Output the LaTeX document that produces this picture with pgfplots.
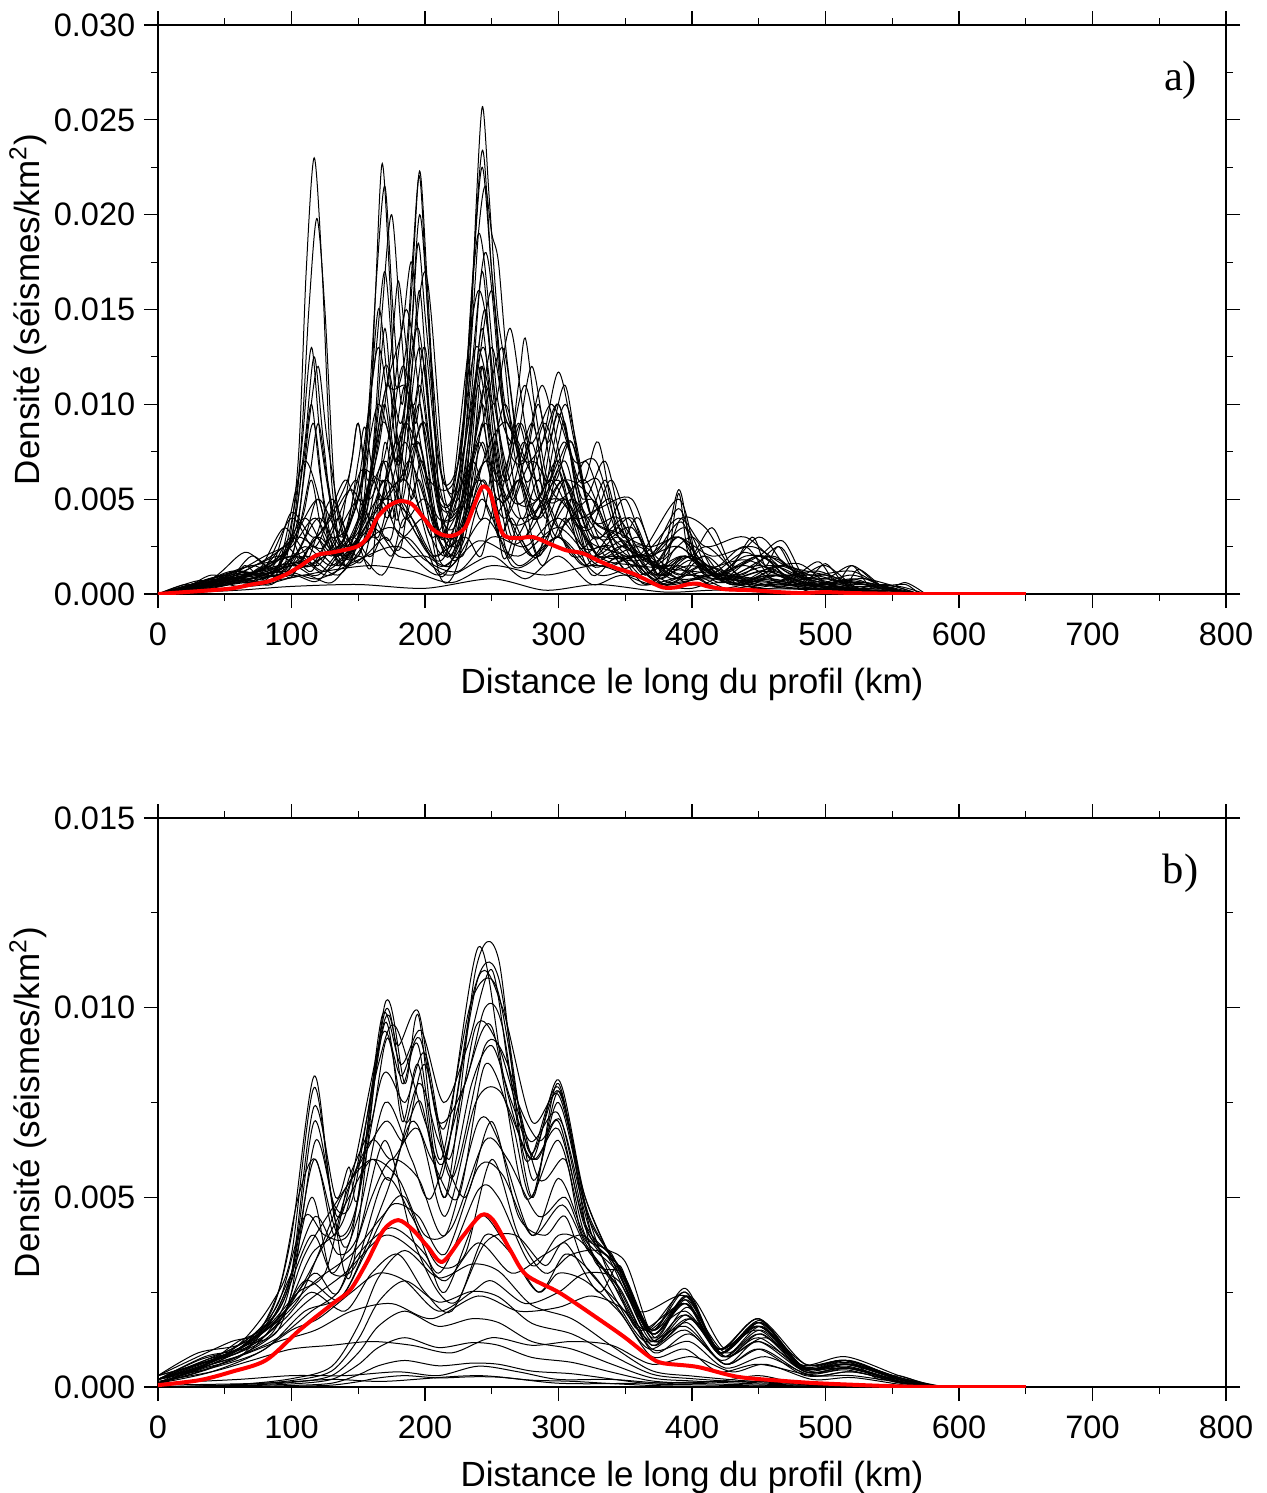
\documentclass[border=0pt]{standalone}
\usepackage{fontspec}
\setmainfont{Liberation Sans}
\newfontfamily\timesfont{Liberation Serif}
\usepackage{pgfplots}
\pgfplotsset{compat=1.18}
\pgfplotsset{
 gmt/.style={width=427.2pt,height=227.6pt,scale only axis,
  xmin=0,xmax=800,ymin=0,
  xtick={0,100,...,800}, xticklabels={0,100,200,300,400,500,600,700,800},
  minor x tick num=1, minor y tick num=1,
  tick align=outside, major tick length=5.6pt, minor tick length=2.8pt,
  axis line style={line width=0.9pt},
  every tick/.style={black,line width=0.45pt},
  tick label style={font=\fontsize{13}{15}\selectfont},
  xticklabel style={yshift=-2.5pt},
  label style={font=\fontsize{14}{16}\selectfont},
  xlabel style={yshift=-2pt},
  ylabel style={yshift=-4pt},
  xlabel={Distance le long du profil (km)},
  ylabel={Densité (séismes/km\textsuperscript{2})}},
 cur/.style={black, line width=0.4pt, smooth, no markers},
 mean/.style={red, line width=1.6pt, smooth, no markers},
}
\begin{document}
\begin{tikzpicture}
\begin{axis}[gmt, at={(63.2pt,-237.6pt)}, anchor=south west, ymax=30,
  ytick={0,5,...,30}, yticklabels={0.000,0.005,0.010,0.015,0.020,0.025,0.030}]
\addplot[cur] coordinates {(0,0)(20,0.3)(40,0.8)(60,0.4)(80,0.9)(95,1.5)(105,7)(111,17)(117,23)(123,17)(130,6)(140,1.5)(150,2.5)(160,1.5)(170,8)(182,3.5)(196,6)(212,0.8)(226,2)(243,10)(258,2)(272,4)(288,1.5)(305,4)(325,1)(345,2)(365,0.5)(390,1.5)(420,0.3)(460,0.8)(490,0.1)(520,0.3)(560,0)(580,0)};
\addplot[cur] coordinates {(0,0)(25,0.5)(45,0.9)(70,0.6)(90,1.2)(105,6)(113,15)(119,19.8)(125,15)(133,5)(145,2)(155,2)(168,6)(176,4)(185,9)(194,5)(210,1.5)(230,3)(237,8)(243,12)(249,8)(262,3)(275,3)(290,5)(310,2)(335,2.5)(360,0.5)(400,1)(430,0.2)(470,0.5)(520,0.2)(560,0)};
\addplot[cur] coordinates {(0,0)(30,0.6)(55,1.0)(80,0.7)(100,3)(110,8)(117,12.5)(124,8)(135,2)(150,3)(158,8)(163,16)(168,22.7)(174,16)(182,5)(196,10)(210,2)(225,2.5)(243,8)(256,3)(270,6)(285,2)(305,5)(325,1.5)(350,2)(380,0.3)(410,1)(450,0.5)(500,0.2)(550,0)};
\addplot[cur] coordinates {(0,0)(30,0.4)(60,1.2)(85,1)(100,3)(109,7)(115,10)(122,6)(135,1.5)(150,4)(158,10)(164,17)(170,21.5)(176,15)(183,10)(190,16)(196,22.3)(202,16)(212,4)(225,2)(235,9)(243,14)(252,8)(268,3)(285,4)(305,7)(322,2)(345,3)(370,0.8)(400,1.5)(440,0.4)(480,0.8)(530,0.1)(560,0)};
\addplot[cur] coordinates {(0,0)(40,0.5)(70,1.0)(95,1.3)(110,3)(120,5)(132,2)(148,5)(162,12)(170,17)(178,11)(186,13)(191,18)(196,22)(202,15)(212,4)(222,3)(232,10)(238,20)(243,25.7)(248,21)(254,15)(260,12)(268,7)(285,4)(305,6)(325,2)(350,2.5)(380,0.5)(410,1.5)(450,0.5)(490,1)(530,0.2)(565,0)};
\addplot[cur] coordinates {(0,0)(35,0.7)(60,0.9)(90,1.5)(108,1.8)(118,3)(135,2)(155,5)(168,10)(175,12)(183,14)(190,17.5)(197,12)(210,5)(225,6)(235,16)(243,23.4)(250,17)(262,8)(275,7)(285,10)(297,6)(310,8)(330,3)(355,3.5)(375,1)(390,2.5)(420,0.8)(460,1.5)(500,0.3)(540,0.3)(570,0)};
\addplot[cur] coordinates {(0,0)(30,0.4)(65,1)(90,1.8)(110,4)(130,2)(150,5)(165,10)(180,7)(190,14)(195,18.5)(201,14)(213,6)(228,8)(237,18)(243,22.5)(250,17)(262,8)(270,11)(275,13.5)(282,10)(292,6)(300,8)(305,9)(315,5)(335,3)(355,4)(375,1)(395,2)(430,0.5)(465,1.5)(500,0.3)(540,0.1)(570,0)};
\addplot[cur] coordinates {(0,0)(40,0.6)(75,1)(100,1.5)(120,2)(135,3)(145,7)(150,9)(157,6)(166,8)(175,13)(180,16.5)(186,13)(193,9)(200,12)(208,6)(220,5)(233,12)(240,19)(245,21.5)(250,19)(255,17.5)(262,12)(275,6)(288,8)(300,11.7)(312,8)(325,4)(345,3)(365,1)(390,3)(420,0.8)(450,2)(480,0.5)(520,0.6)(560,0)};
\addplot[cur] coordinates {(0,0)(30,0.5)(60,1.1)(80,1.4)(100,4)(118,2.5)(140,6)(155,4)(170,12)(182,9)(195,14)(210,5)(225,6)(240,19)(255,10)(268,8)(280,12)(292,8)(305,11)(318,6)(330,8)(345,3)(365,2.5)(390,1)(410,2.5)(440,0.8)(470,1.5)(510,0.3)(550,0.2)(575,0)};
\addplot[cur] coordinates {(0,0)(25,0.3)(55,0.9)(90,2)(110,1.5)(130,5)(148,2.5)(168,9)(182,7)(200,17)(215,6)(228,7)(245,18)(258,10)(270,8)(285,6)(300,10)(318,4)(332,3)(350,5)(370,1.5)(395,2)(430,0.5)(465,1)(500,0.2)(540,0.2)(570,0)};
\addplot[cur] coordinates {(0,0)(30,0.6)(60,1.2)(80,0.8)(100,3)(120,1.5)(150,5)(165,3)(185,8)(205,3)(230,6)(243,4)(260,10)(280,4)(305,6)(330,2)(360,3)(375,1)(390,5.5)(400,2)(410,2)(425,1)(445,3)(455,1.5)(465,2.5)(480,0.8)(500,1)(520,0.3)(545,0.5)(570,0)};
\addplot[cur] coordinates {(0,0)(25,0.4)(50,1)(70,0.6)(95,2.5)(115,1.2)(135,4)(150,2)(170,6)(195,3)(215,2)(245,9)(265,3)(285,5)(300,3)(320,7)(340,3)(360,2)(390,5)(405,1.5)(420,1.5)(440,2.5)(460,0.8)(478,1)(495,1.7)(508,0.6)(520,1.5)(535,0.3)(555,0.4)(575,0)};
\addplot[cur] coordinates {(0,0)(20,0.3)(40,1)(60,0.7)(80,1.5)(100,1)(120,3)(140,1.5)(160,4)(175,3)(190,10)(210,3)(235,7)(250,4)(270,6)(285,4)(305,10)(325,4)(345,4)(370,1.5)(400,3)(420,1)(450,3)(470,1.5)(490,1)(520,1.2)(545,0.3)(570,0)};
\addplot[cur] coordinates {(0,0)(30,0.7)(50,0.5)(70,2)(90,1.5)(110,7)(130,3)(150,5)(165,13)(180,6)(195,8)(215,3)(240,16)(260,6)(275,5)(290,9)(310,4)(325,3.5)(340,6)(360,2)(380,2)(392,4)(410,3.5)(435,1)(465,2.5)(480,1)(500,1.5)(525,0.3)(560,0)};
\addplot[cur] coordinates {(0,0)(30,0.5)(60,1)(85,1.5)(100,3)(108,8)(115,13)(122,8)(135,3)(150,3)(162,8)(170,14)(178,8)(188,10)(196,16)(205,8)(220,4)(234,10)(243,17)(252,10)(268,5)(285,5)(300,7)(320,3)(350,2)(380,0.5)(420,1)(470,0.3)(520,0.2)(560,0)};
\addplot[cur] coordinates {(0,0)(40,0.3)(70,0.8)(100,1.5)(120,1)(145,3)(160,2)(180,5)(200,2.5)(215,1)(243,6)(255,3)(265,4)(280,2)(300,3)(320,1.5)(340,2)(365,1.5)(390,4.5)(405,1.5)(430,1)(460,2)(480,1)(500,0.8)(520,1.5)(540,0.5)(560,0.5)(570,0)};
\addplot[cur] coordinates {(0,0)(30,0.3)(60,0.8)(85,0.5)(110,2)(135,1)(160,3)(175,2)(185,4)(205,2)(230,3)(242,2)(255,5)(280,2)(310,5)(335,2)(360,2)(390,0.8)(420,1)(445,0.5)(470,1.5)(500,0.3)(530,0.2)(560,0)};
\addplot[cur] coordinates {(0,0)(40,0.5)(80,1)(100,2)(113,6)(120,9)(127,6)(140,2)(165,5)(182,3)(200,4)(220,2)(232,7)(240,11)(248,7)(262,2)(270,3)(285,2)(300,6.5)(315,2.5)(330,3)(355,1)(385,1.5)(420,0.3)(460,0.5)(520,0.1)(560,0)};
\addplot[cur] coordinates {(0,0)(50,0.3)(80,0.5)(110,1)(130,0.6)(150,2)(168,1)(185,3)(205,1.5)(220,1)(250,2)(275,0.8)(300,2)(325,0.5)(350,1)(400,0.3)(450,2)(475,0.5)(500,0.5)(540,0.1)(570,0)};
\addplot[cur] coordinates {(0,0)(40,0.4)(70,0.8)(100,1.5)(115,1.5)(130,3)(145,2)(160,7)(168,15)(175,20)(182,14)(190,8)(200,9)(212,4)(225,4)(237,11)(245,15)(253,10)(265,5)(280,8)(295,3)(310,4)(335,1.5)(360,2)(400,0.5)(440,0.8)(500,0.2)(560,0)};
\addplot[cur] coordinates {(0,0)(35,0.4)(70,0.7)(100,1.2)(120,1.8)(140,3)(150,7)(155,8.8)(162,6)(170,5)(180,6)(188,7)(196,11)(205,7)(218,3)(230,4)(237,6)(243,9)(252,6)(262,7)(275,11)(290,6)(300,7)(310,8)(325,4)(350,3)(370,1)(395,2)(430,0.5)(470,1)(520,0.2)(560,0)};
\addplot[cur] coordinates {(0,0)(30,0.3)(60,0.7)(100,1)(120,0.7)(140,2.5)(160,3)(175,7)(185,11)(195,7)(210,3)(228,5)(240,9)(250,13)(260,9)(272,4)(285,6)(300,3.5)(325,5)(345,2)(365,2)(385,0.8)(410,1.5)(450,0.3)(490,0.6)(530,0.1)(565,0)};
\addplot[cur] coordinates {(0,0)(30,0.4)(60,0.9)(90,1.5)(108,4)(115,6)(124,3)(140,1.5)(155,2)(170,3)(182,2.5)(195,8)(210,3)(228,2)(243,5)(265,1.5)(285,2)(300,3)(320,1.5)(345,3.5)(365,1)(390,3)(410,1)(440,1.5)(465,0.6)(490,0.8)(530,0.2)(560,0)};
\addplot[cur] coordinates {(0,0)(30,0.5)(55,0.8)(75,1.2)(95,3.5)(110,1.5)(125,2)(145,3)(170,7)(185,4)(200,5)(220,2.5)(245,7)(262,5)(280,9)(292,5)(305,5)(320,3.5)(335,6)(348,3)(360,4)(378,1)(395,2)(420,0.6)(455,1.2)(490,0.3)(530,0.4)(565,0)};
\addplot[cur] coordinates {(0,0)(30,0.4)(60,0.9)(90,1.5)(105,4)(113,9)(120,12)(127,8)(140,3)(155,4)(165,8)(170,10)(178,7)(188,12)(196,20)(204,13)(215,5)(228,5)(235,9)(240,12)(248,9)(262,4)(280,4)(300,6)(318,2.5)(340,2.5)(370,0.5)(400,1)(450,0.3)(500,0.3)(560,0)};
\addplot[cur] coordinates {(0,0)(35,0.5)(65,1)(95,1.5)(120,2)(140,3)(155,7)(165,15)(173,11)(185,11)(192,10)(200,13)(210,7)(225,5)(238,11)(250,16)(260,10)(275,7)(288,8)(300,10)(315,6)(330,6)(345,3)(365,2)(390,3)(420,0.8)(450,1.5)(490,0.5)(530,0.6)(565,0)};
\addplot[cur] coordinates {(0,0)(20,0.5)(32,0.3)(45,0.8)(55,0.5)(65,1.5)(78,0.8)(90,1.2)(100,0.9)(115,2.5)(135,1.5)(160,3.5)(180,2)(200,2)(220,1.5)(245,4)(270,1.5)(300,3)(330,1)(360,1.5)(385,0.6)(410,2)(435,0.5)(460,1.2)(490,0.4)(520,0.8)(545,0.2)(570,0)};
\addplot[cur] coordinates {(0,0)(60,0.2)(100,0.4)(150,0.5)(200,0.3)(250,0.8)(290,0.2)(330,0.5)(380,0.1)(420,0.2)(480,0)};
\addplot[cur] coordinates {(0,0)(50,0.5)(100,2)(130,1)(160,4)(185,6)(215,2)(245,7)(270,4)(300,5)(330,2)(360,2.5)(380,1.5)(390,5.3)(398,2)(415,3.5)(430,1.5)(450,2)(468,2.8)(485,0.8)(500,1.6)(515,0.5)(525,1.3)(545,0.3)(560,0.6)(575,0)};
\addplot[cur] coordinates {(0,0)(40,0.8)(65,2.2)(85,1.5)(100,4.3)(118,3)(142,6)(150,9)(158,5)(172,8)(186,15)(200,8)(213,3)(230,8)(244,13)(258,6)(272,9)(288,5)(305,8)(325,3)(352,4)(375,1)(400,2)(430,0.6)(460,1)(500,0.2)(540,0)};
\addplot[cur] coordinates {(0,0)(30,0.4)(60,1)(90,1.2)(110,2.5)(130,1.5)(150,3)(170,5)(190,4)(210,2)(240,6)(260,4)(280,7)(300,5)(320,6)(340,3)(365,2)(390,2.5)(420,1)(450,2)(475,1)(500,0.8)(530,0.5)(560,0)};
\addplot[cur] coordinates {(0,0)(40,0.6)(70,1.5)(95,1)(120,4)(140,2)(160,6)(172,4)(188,7)(205,4)(222,3)(240,8)(255,5)(270,9)(285,5)(300,9.5)(318,5)(335,7)(350,3)(370,2)(395,3.5)(415,1)(440,2)(465,1.8)(490,0.5)(520,1)(550,0.2)(570,0)};
\addplot[cur] coordinates {(0,0)(30,0.5)(55,1.2)(80,1)(105,2)(125,1.2)(150,2.5)(175,3.5)(200,1.8)(225,1.2)(250,3)(275,2.5)(300,4)(325,2)(350,2.8)(375,0.8)(400,1.8)(430,0.5)(460,1)(500,0.4)(530,0.5)(565,0)};
\addplot[cur] coordinates {(0,0)(35,0.3)(65,0.6)(95,0.8)(125,1.2)(160,1.5)(190,1.2)(220,0.6)(250,1.5)(290,1)(330,1.5)(370,0.5)(410,0.8)(460,0.6)(510,0.3)(560,0)};
\addplot[cur] coordinates {(0,0)(40,0.5)(70,1)(100,2.5)(118,4)(135,2)(155,4.5)(172,11)(185,6)(198,9)(212,4)(230,5)(245,11)(260,6)(275,8)(290,4)(305,6)(325,5)(345,2)(370,2)(392,3.8)(410,1)(440,2.2)(465,1)(495,1.2)(525,0.3)(560,0)};
\addplot[cur] coordinates {(0,0)(30,0.6)(55,0.9)(85,2)(105,3)(125,2.5)(148,6)(160,3)(178,8)(190,5)(198,7)(215,2)(232,4)(246,7.5)(262,9)(280,5)(295,6)(312,4)(330,4.5)(355,5)(375,1.5)(400,2)(425,0.8)(450,1.2)(480,1.6)(505,0.4)(530,0.6)(570,0)};
\addplot[cur] coordinates {(0,0)(40,0.4)(75,0.9)(100,1.8)(116,9)(128,3)(150,2)(168,7)(180,4)(196,13)(212,4)(228,3)(242,12)(256,5)(272,6)(290,3)(305,5)(330,2)(360,1.5)(400,1.2)(450,0.8)(500,0.4)(560,0)};
\addplot[cur] coordinates {(0,0)(35,0.5)(60,1.3)(90,1.8)(110,2.3)(130,4)(145,5.5)(165,4)(183,12)(196,7)(210,4)(225,4.5)(240,8)(258,13)(272,7)(288,11)(305,6)(320,4)(340,5)(360,2)(390,4)(410,2.5)(440,3)(470,1.2)(500,0.6)(530,0.8)(570,0)};
\addplot[cur] coordinates {(0,0)(30,0.4)(60,0.7)(95,1.2)(120,0.8)(150,1.8)(180,2.5)(210,1)(240,2.8)(270,2)(300,3.5)(330,1.5)(360,2)(395,1)(440,1.8)(480,0.5)(520,0.7)(565,0)};
\addplot[cur] coordinates {(0,0)(45,0.7)(80,2)(100,2.8)(120,5)(138,3)(152,6.5)(170,6)(186,9)(203,6)(222,6)(238,13)(252,10)(264,14)(278,8)(295,10)(312,7)(328,7)(345,3.5)(368,2.5)(390,3)(415,2)(445,2.5)(470,1.5)(500,1)(535,0.4)(570,0)};
\addplot[mean] coordinates {(0,0)(20,0.1)(40,0.2)(56,0.3)(70,0.5)(82,0.65)(95,1.0)(106,1.45)(119,2.05)(131,2.2)(149,2.5)(157,3.0)(164,4.0)(172,4.6)(181,4.9)(190,4.75)(198,4.1)(206,3.4)(214,3.1)(222,3.1)(230,3.5)(237,4.7)(243,5.65)(249,5.3)(258,3.2)(269,2.95)(281,3.0)(295,2.6)(306,2.3)(318,2.15)(330,1.75)(343,1.37)(355,1.1)(366,0.74)(378,0.35)(388,0.35)(396,0.5)(404,0.55)(412,0.4)(425,0.25)(445,0.2)(465,0.1)(482,0.05)(500,0.1)(520,0.05)(545,0.02)(560,0)(650,0)};
\node[font=\timesfont\fontsize{17}{19}\selectfont] at (axis cs:766,27.1) {a)};
\end{axis}

\begin{axis}[gmt, at={(63.2pt,-554.8pt)}, anchor=south west, ymax=15,
  ytick={0,5,10,15}, yticklabels={0.000,0.005,0.010,0.015}]
\addplot[cur] coordinates {(0,0.3)(30,0.6)(60,1)(85,2)(100,4)(117,8.2)(130,5)(145,3)(170,10.1)(185,8)(195,9.8)(212,6)(240,11.6)(260,8)(280,6)(300,8.1)(320,5)(345,3)(370,1.5)(395,2.5)(420,1)(450,1.8)(480,0.6)(515,0.7)(540,0.2)(555,0.3)(580,0)};
\addplot[cur] coordinates {(0,0.2)(30,0.5)(60,1.1)(85,2.2)(100,3.5)(117,7.9)(132,4.5)(145,4)(170,9.9)(183,8)(195,9)(215,5)(238,11)(255,11.3)(275,6)(300,7.9)(325,4)(345,3.2)(370,1.5)(395,2.3)(420,0.9)(450,1.7)(480,0.5)(515,0.6)(555,0.2)(585,0)};
\addplot[cur] coordinates {(0,0.2)(30,0.7)(55,1)(85,1.8)(100,3)(117,7.4)(133,5)(143,5.8)(150,5)(170,9.6)(183,7)(195,8.5)(212,5.5)(237,10.5)(255,10.8)(280,5.5)(300,7.5)(322,4.5)(348,3)(372,1.2)(397,2.1)(423,0.8)(452,1.6)(482,0.5)(517,0.6)(555,0.2)(585,0)};
\addplot[cur] coordinates {(0,0.3)(30,0.6)(60,1)(85,1.5)(100,2.5)(118,6.5)(134,4.5)(145,5.5)(170,9.7)(180,9)(195,9.9)(210,7)(230,8)(245,10)(258,9.5)(280,5)(300,8)(325,3.5)(348,3)(370,1.5)(395,2.6)(420,1)(450,1.8)(485,0.6)(515,0.7)(555,0.25)(590,0)};
\addplot[cur] coordinates {(0,0.1)(35,0.5)(65,0.9)(90,2.5)(105,5)(118,6)(135,4)(150,5)(168,9.8)(182,8.5)(197,9.4)(214,7.5)(232,9)(250,11)(265,8)(285,6.5)(302,7)(325,4)(350,3.3)(372,1.3)(396,2.4)(421,0.9)(451,1.7)(483,0.5)(516,0.7)(555,0.2)(585,0)};
\addplot[cur] coordinates {(0,0.2)(40,0.6)(70,1.2)(95,2)(115,3.5)(140,4.5)(165,8.5)(178,9.5)(200,7)(215,6)(240,10.8)(258,10)(280,7)(300,7.7)(320,5)(345,3)(370,1.4)(398,2.4)(425,1)(452,1.7)(485,0.5)(518,0.7)(556,0.2)(585,0)};
\addplot[cur] coordinates {(0,0.1)(40,0.6)(70,1)(95,2.2)(115,5)(130,3)(150,4.5)(170,7.5)(190,6)(205,5)(230,8)(250,9.5)(275,5)(300,6.5)(320,4)(340,3.5)(365,1.5)(395,2)(420,1)(450,1.5)(485,0.5)(520,0.6)(560,0.2)(585,0)};
\addplot[cur] coordinates {(0,0.2)(35,0.6)(65,1.1)(90,1.5)(110,3.5)(145,5.5)(170,7)(185,6.5)(200,8.5)(220,5.5)(245,9)(262,8.5)(285,5.5)(305,6)(318,4)(345,3)(372,1.2)(400,1.8)(425,0.8)(455,1.3)(485,0.5)(520,0.5)(560,0.1)(585,0)};
\addplot[cur] coordinates {(0,0.1)(30,0.5)(60,1)(90,1.8)(117,3)(135,2.5)(160,5)(175,6)(195,5.5)(215,4)(240,7)(255,6.5)(280,4)(300,5.5)(318,4.1)(340,2.5)(365,1.2)(395,1.6)(425,0.6)(450,1.2)(490,0.4)(520,0.5)(560,0.1)(585,0)};
\addplot[cur] coordinates {(0,0.2)(40,0.7)(70,1.2)(95,2)(118,2.8)(145,3.5)(168,4.5)(185,5)(210,3)(240,5.2)(255,5)(280,3.2)(300,4)(318,3.8)(345,2.5)(370,1)(398,1.2)(425,0.5)(455,0.8)(490,0.3)(520,0.4)(560,0.1)(585,0)};
\addplot[cur] coordinates {(0,0.1)(30,0.4)(60,0.8)(90,1.3)(115,2)(135,2.5)(150,3.5)(175,4.2)(200,3.5)(215,2.5)(240,4.5)(260,3.8)(285,2.5)(305,3.5)(325,3)(346,2)(370,0.8)(395,1)(420,0.4)(450,0.6)(490,0.3)(520,0.3)(560,0.1)(585,0)};
\addplot[cur] coordinates {(0,0.1)(40,0.4)(80,1)(110,2)(140,2.5)(170,5)(190,7)(205,6)(225,5)(245,8.5)(265,7)(280,5)(300,7.8)(318,5)(340,2.8)(365,1.5)(395,2.5)(420,1)(450,1.6)(485,0.5)(515,0.6)(560,0.2)(585,0)};
\addplot[cur] coordinates {(0,0.2)(30,0.6)(60,0.9)(85,1.5)(105,2.5)(125,3.8)(140,4.8)(160,6)(175,5.5)(195,8)(210,6.5)(230,5)(250,7)(270,4.5)(290,4)(305,4.5)(320,3.2)(345,2.2)(370,1.2)(395,1.9)(425,0.8)(452,1.4)(485,0.4)(515,0.5)(560,0.15)(590,0)};
\addplot[cur] coordinates {(0,0.2)(35,0.6)(60,1.2)(80,1.6)(100,3)(118,4.5)(135,3.5)(150,4)(170,6.5)(190,4)(210,2.5)(225,2.3)(245,4)(265,3.5)(285,2.5)(300,3)(320,2.8)(345,2)(368,1)(395,1.5)(425,0.6)(450,1)(485,0.3)(520,0.4)(560,0.1)(585,0)};
\addplot[cur] coordinates {(0,0.1)(40,0.5)(80,1.2)(110,2.2)(140,3)(170,4)(195,3.5)(215,2.8)(240,3.8)(265,3)(290,3.5)(318,4)(340,3)(360,1.5)(395,2.2)(420,1)(450,1.8)(480,0.6)(515,0.8)(555,0.3)(585,0)};
\addplot[cur] coordinates {(0,0.2)(35,0.7)(70,1.1)(95,1.8)(115,2.5)(140,2)(160,3)(180,3.5)(200,2.5)(220,2)(245,3.8)(268,4)(290,3.2)(305,3.8)(330,2.5)(346,3.2)(365,1.5)(395,2.2)(425,0.9)(452,1.5)(485,0.5)(518,0.6)(556,0.2)(585,0)};
\addplot[cur] coordinates {(0,0.3)(30,0.8)(55,1.2)(80,1.5)(100,3)(117,6)(132,4)(143,5.5)(160,7)(172,9.2)(185,7)(197,7.5)(215,5)(235,8)(250,9)(265,7.5)(283,6)(300,7)(320,4.2)(345,3.1)(370,1.4)(395,2.2)(420,0.9)(450,1.6)(485,0.5)(516,0.6)(556,0.2)(585,0)};
\addplot[cur] coordinates {(0,0.2)(35,0.8)(60,1)(85,1.7)(105,2.5)(125,3)(140,5)(160,6.5)(175,6)(195,6.8)(215,4.5)(238,7.5)(256,7.8)(280,6)(300,6.8)(320,4.3)(345,3.2)(370,1.3)(396,2.3)(422,0.9)(451,1.7)(484,0.5)(517,0.6)(556,0.2)(585,0)};
\addplot[cur] coordinates {(0,0.1)(30,0.5)(60,1)(90,2)(115,4)(130,3)(148,3.2)(170,5.5)(190,4.5)(210,3.2)(230,3.5)(250,6)(270,4)(290,3)(310,3.5)(335,3.5)(360,2)(395,2.4)(420,1)(450,1.6)(485,0.6)(515,0.7)(555,0.25)(585,0)};
\addplot[cur] coordinates {(0,0.2)(40,0.5)(75,0.9)(100,1.5)(120,1.8)(145,2.5)(165,3)(185,2.8)(210,2)(235,2.5)(250,2.8)(275,2.2)(300,2.5)(320,3)(345,2.8)(370,1.2)(398,1.8)(425,0.8)(450,1.2)(485,0.4)(515,0.5)(555,0.15)(585,0)};
\addplot[cur] coordinates {(0,0.3)(30,0.9)(60,1.1)(85,1.6)(105,2.3)(120,3.5)(140,5.2)(160,6)(180,5.5)(200,4)(220,4.2)(245,6.5)(262,6)(285,4.5)(305,5)(320,3.8)(345,2.6)(370,1.1)(396,1.7)(422,0.7)(450,1.3)(485,0.4)(516,0.5)(556,0.15)(585,0)};
\addplot[cur] coordinates {(0,0.2)(35,0.7)(65,1.2)(90,2.2)(110,4.5)(125,4)(145,4.2)(168,8.2)(185,7.5)(200,8.8)(218,6)(238,9.5)(255,9)(278,6.5)(300,7.2)(322,4.1)(347,3.1)(370,1.4)(396,2.2)(421,0.9)(451,1.6)(484,0.5)(516,0.65)(556,0.2)(585,0)};
\addplot[cur] coordinates {(0,0.1)(30,0.6)(60,0.9)(85,1.4)(110,2.8)(135,2.3)(155,3.5)(175,4.8)(195,4.5)(215,3.5)(240,5.8)(258,5.6)(280,4)(303,4.8)(322,3.6)(346,2.6)(370,1.1)(396,1.9)(423,0.8)(451,1.4)(484,0.45)(516,0.55)(556,0.15)(585,0)};
\addplot[cur] coordinates {(0,0.2)(30,0.5)(60,0.8)(90,1.2)(118,1.5)(145,2)(175,2.2)(205,1.8)(240,2.4)(270,2)(300,2.1)(325,2.4)(350,2)(372,0.9)(398,1.4)(425,0.6)(452,1)(485,0.35)(516,0.45)(556,0.1)(585,0)};
\addplot[cur] coordinates {(0,0.1)(40,0.6)(75,1.3)(100,3)(117,7)(132,4.8)(146,5)(168,9.3)(182,8.2)(196,9.2)(214,6.8)(235,10.2)(254,10.5)(278,6.2)(300,7.8)(322,4.6)(346,3.1)(371,1.4)(396,2.4)(421,0.9)(451,1.75)(483,0.55)(516,0.7)(556,0.2)(585,0)};
\addplot[cur] coordinates {(0,0.15)(40,0.4)(70,0.7)(100,1)(130,1.1)(160,1.2)(190,1.1)(220,0.9)(250,1.3)(280,1.1)(310,1.2)(340,1.1)(370,0.6)(400,0.8)(430,0.4)(455,0.6)(490,0.2)(520,0.25)(560,0.05)(585,0)};
\addplot[cur] coordinates {(0,0.1)(60,0.2)(100,0.3)(140,0.3)(180,0.4)(210,0.3)(240,0.55)(270,0.4)(300,0.2)(340,0.2)(380,0.1)(420,0.15)(450,0.3)(480,0.1)(520,0.05)(560,0)};
\addplot[cur] coordinates {(0,0.05)(80,0.1)(130,0.2)(170,0.15)(240,0.3)(300,0.1)(360,0.1)(450,0.15)(520,0)};
\addplot[cur] coordinates {(0,0)(60,0.07)(100,0.22)(130,0.54)(150,1.62)(165,2.88)(185,3.6)(210,2.88)(235,3.24)(255,3.06)(280,2.16)(310,1.8)(340,1.08)(370,0.43)(400,0.29)(450,0.14)(520,0.04)(560,0)};
\addplot[cur] coordinates {(0,0)(60,0.06)(100,0.17)(130,0.42)(150,1.26)(165,2.24)(185,2.8)(210,2.24)(235,2.52)(255,2.38)(280,1.68)(310,1.4)(340,0.84)(370,0.34)(400,0.22)(450,0.11)(520,0.03)(560,0)};
\addplot[cur] coordinates {(0,0)(60,0.04)(100,0.12)(130,0.3)(150,0.9)(165,1.6)(185,2.0)(210,1.6)(235,1.8)(255,1.7)(280,1.2)(310,1.0)(340,0.6)(370,0.24)(400,0.16)(450,0.08)(520,0.02)(560,0)};
\addplot[cur] coordinates {(0,0)(60,0.03)(100,0.08)(130,0.2)(150,0.59)(165,1.04)(185,1.3)(210,1.04)(235,1.17)(255,1.1)(280,0.78)(310,0.65)(340,0.39)(370,0.16)(400,0.1)(450,0.05)(520,0.01)(560,0)};
\addplot[cur] coordinates {(0,0)(60,0.01)(100,0.04)(130,0.1)(150,0.32)(165,0.56)(185,0.7)(210,0.56)(235,0.63)(255,0.6)(280,0.42)(310,0.35)(340,0.21)(370,0.08)(400,0.06)(450,0.03)(520,0.01)(560,0)};
\addplot[cur] coordinates {(0,0)(60,0.01)(100,0.02)(130,0.05)(150,0.14)(165,0.24)(185,0.3)(210,0.24)(235,0.27)(255,0.26)(280,0.18)(310,0.15)(340,0.09)(370,0.04)(400,0.02)(450,0.01)(520,0)};
\addplot[mean] coordinates {(0,0.05)(31,0.18)(55,0.4)(81,0.71)(106,1.5)(131,2.2)(144,2.56)(156,3.26)(169,4.14)(180,4.4)(191,4.14)(202,3.7)(213,3.3)(228,3.96)(242,4.53)(251,4.4)(264,3.6)(276,2.95)(301,2.48)(331,1.77)(350,1.3)(368,0.8)(378,0.63)(404,0.53)(434,0.27)(465,0.17)(494,0.1)(543,0.03)(580,0)(650,0)};
\node[font=\timesfont\fontsize{17}{19}\selectfont] at (axis cs:766,13.55) {b)};
\end{axis}
\pgfresetboundingbox
\path[use as bounding box] (0,0) rectangle (506.4pt,-597.2pt);
\end{tikzpicture}
\end{document}
